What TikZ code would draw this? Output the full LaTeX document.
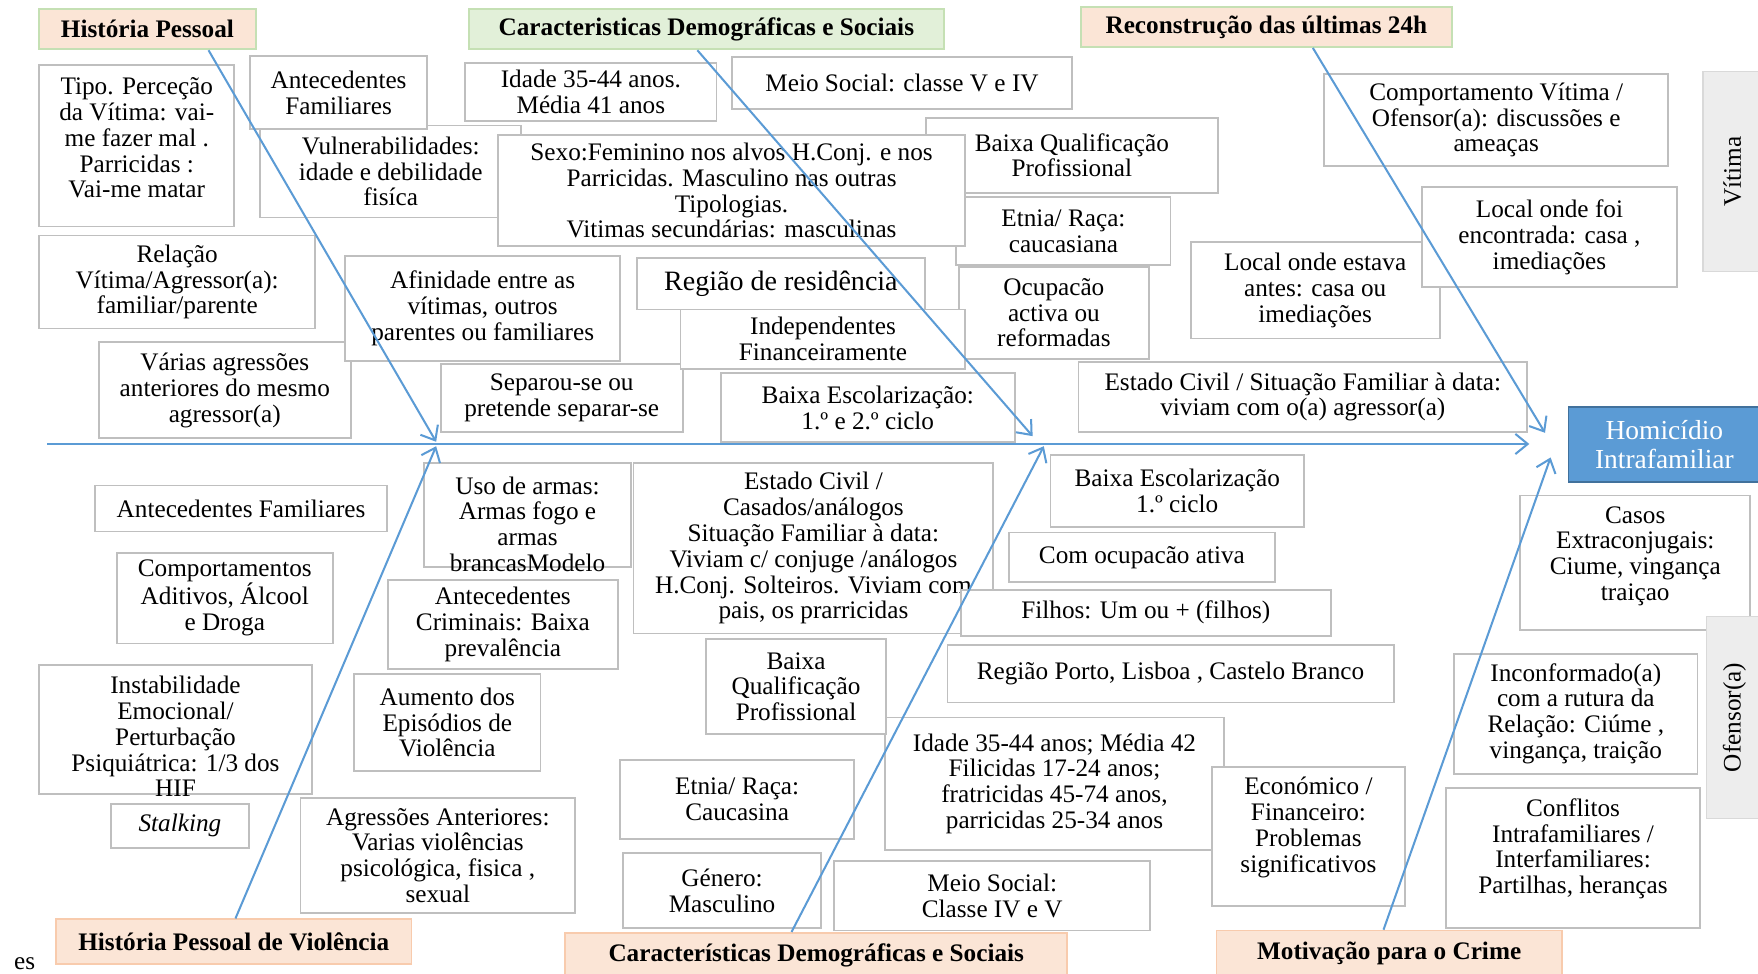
\documentclass[tikz,border=0pt]{standalone}
\usepackage{fontspec}
\setmainfont{Liberation Serif}
\usepackage{tikz}
\usetikzlibrary{arrows.meta}

\definecolor{boxgray}{HTML}{BFBFBF}
\definecolor{fishblue}{HTML}{5B9BD5}
\definecolor{darkblue}{HTML}{41719C}
\definecolor{peach}{HTML}{FBE5D6}
\definecolor{peachline}{HTML}{F8CBAD}
\definecolor{mint}{HTML}{E2F0D9}
\definecolor{mintline}{HTML}{C5E0B4}
\definecolor{sidegray}{HTML}{EDEDED}
\definecolor{sideline}{HTML}{D9D9D9}

\newcommand{\boxfont}{\fontsize{22.5}{23}\selectfont}

\begin{document}
\begin{tikzpicture}[x=1pt,y=-1pt,
    box/.style={draw=boxgray, line width=1.6pt, fill=white, align=center, inner sep=0pt, font=\boxfont},
    txt/.style={align=center, inner sep=0pt, font=\boxfont},
    head/.style={draw=mintline, line width=1.6pt, fill=peach, inner sep=0pt, font=\boxfont\bfseries},
    side/.style={draw=sideline, line width=1.2pt, fill=sidegray, inner sep=0pt, font=\boxfont},
    fish/.style={draw=fishblue, line width=1.8pt, -{Straight Barb[length=11pt,width=18pt]}}]
  \useasboundingbox[fill=white] (0,0) rectangle (1568,868);

  % historia pessoal
  \node[box, minimum width=174pt, minimum height=144pt] (tipo) at (122,130) {};
  \node[txt] (tipotxt) at (122,123) {Tipo. Perceção\\da Vítima: vai-\\me fazer mal .\\Parricidas :\\Vai-me matar};
  \node[box, minimum width=233pt, minimum height=82pt] (vuln) at (348.5,153) {Vulnerabilidades:\\idade e debilidade\\fisíca};
  \node[box, minimum width=158pt, minimum height=65pt] (antfam) at (302,82.5) {Antecedentes\\Familiares};
  \node[box, minimum width=246pt, minimum height=83pt] (relacao) at (158,251.5) {Relação\\Vítima/Agressor(a):\\familiar/parente};
  \node[box, minimum width=225pt, minimum height=86pt] (varias) at (200.5,348) {Várias agressões\\anteriores do mesmo\\agressor(a)};
  \node[box, minimum width=245pt, minimum height=94pt] (afinidade) at (430.5,275) {Afinidade entre as\\vítimas, outros\\parentes ou familiares};
  \node[box, minimum width=216pt, minimum height=60pt] (separou) at (501,355) {Separou-se ou\\pretende separar-se};

  % demograficas vitima
  \node[box, minimum width=224pt, minimum height=52pt] (idade) at (527,82) {Idade 35-44 anos.\\Média 41 anos};
  \node[box, minimum width=303pt, minimum height=46pt] (meio) at (804.5,74) {Meio Social: classe V e IV};
  \node[box, minimum width=260pt, minimum height=67pt] (qualif) at (956,138.5) {Baixa Qualificação\\Profissional};
  \node[box, minimum width=191pt, minimum height=60pt] (etnia) at (948.5,206) {Etnia/ Raça:\\caucasiana};
  \node[box, minimum width=417pt, minimum height=99pt] (sexo) at (652.5,170) {Sexo:Feminino nos alvos H.Conj. e nos\\Parricidas. Masculino nas outras\\Tipologias.\\Vitimas secundárias: masculinas};
  \node[box, minimum width=257pt, minimum height=46pt, font=\fontsize{25}{26}\selectfont] (regiao) at (696.5,253) {Região de residência};
  \node[box, minimum width=170pt, minimum height=82pt] (ocupacao) at (940,279) {Ocupacão\\activa ou\\reformadas};
  \node[box, minimum width=254pt, minimum height=53pt] (indep) at (734,302.5) {Independentes\\Financeiramente};
  \node[box, minimum width=262pt, minimum height=61pt] (escola) at (774,363.5) {Baixa Escolarização:\\1.º e 2.º ciclo};

  % ultimas 24h
  \node[box, minimum width=307pt, minimum height=82pt] (comport) at (1334.5,107) {Comportamento Vítima /\\Ofensor(a): discussões e\\ameaças};
  \node[box, minimum width=222pt, minimum height=86pt] (localantes) at (1173,259) {Local onde estava\\antes: casa ou\\imediações};
  \node[box, minimum width=228pt, minimum height=89pt] (localfoi) at (1382,211.5) {Local onde foi\\encontrada: casa ,\\imediações};
  \node[box, minimum width=400pt, minimum height=62pt] (estado) at (1162,354) {Estado Civil / Situação Familiar à data:\\viviam com o(a) agressor(a)};

  % historia pessoal de violencia
  \node[box, minimum width=260pt, minimum height=41pt] (antfamB) at (215,453.5) {Antecedentes Familiares};
  \node[box, minimum width=193pt, minimum height=81pt] (aditivos) at (200.5,533.5) {Comportamentos\\Aditivos, Álcool\\e Droga};
  \node[box, minimum width=243pt, minimum height=115pt] (instab) at (156.5,650.5) {};
  \node[txt] (instabtxt) at (156.5,657) {Instabilidade\\Emocional/\\Perturbação\\Psiquiátrica: 1/3 dos\\HIF};
  \node[box, minimum width=123pt, minimum height=39pt, font=\boxfont\itshape] (stalking) at (160.5,736.5) {Stalking};
  \node[box, minimum width=185pt, minimum height=93pt] (armas) at (470.5,459.5) {};
  \node[txt] (armastxt) at (470.5,467.5) {Uso de armas:\\Armas fogo e\\armas\\brancasModelo};
  \node[box, minimum width=205pt, minimum height=80pt] (criminais) at (448.5,557) {Antecedentes\\Criminais: Baixa\\prevalência};
  \node[box, minimum width=166pt, minimum height=87pt] (aumento) at (399,644.5) {Aumento dos\\Episódios de\\Violência};
  \node[box, minimum width=245pt, minimum height=102pt] (agressoes) at (390.5,763) {Agressões Anteriores:\\Varias violências\\psicológica, fisica ,\\sexual};

  % demograficas ofensor
  \node[box, minimum width=321pt, minimum height=152pt] (estadoB) at (725.5,489) {Estado Civil /\\Casados/análogos\\Situação Familiar à data:\\Viviam c/ conjuge /análogos\\H.Conj. Solteiros. Viviam com\\pais, os prarricidas};
  \node[box, minimum width=303pt, minimum height=118pt] (idadeB) at (940.5,699) {Idade 35-44 anos; Média 42\\Filicidas 17-24 anos;\\fratricidas 45-74 anos,\\parricidas 25-34 anos};
  \node[box, minimum width=160pt, minimum height=85pt] (qualifB) at (710,612.5) {Baixa\\Qualificação\\Profissional};
  \node[box, minimum width=209pt, minimum height=70pt] (etniaB) at (657.5,713) {Etnia/ Raça:\\Caucasina};
  \node[box, minimum width=176pt, minimum height=67pt] (genero) at (644,794.5) {Género:\\Masculino};
  \node[box, minimum width=282pt, minimum height=62pt] (meioB) at (885,799) {Meio Social:\\Classe IV e V};
  \node[box, minimum width=226pt, minimum height=64pt] (escolaB) at (1050,438) {Baixa Escolarização\\1.º ciclo};
  \node[box, minimum width=237pt, minimum height=44pt] (ocupacaoB) at (1018.5,497) {Com ocupacão ativa};
  \node[box, minimum width=330pt, minimum height=41pt] (filhos) at (1022,546.5) {Filhos: Um ou + (filhos)};
  \node[box, minimum width=398pt, minimum height=51pt] (regiaoB) at (1044,601) {Região Porto, Lisboa , Castelo Branco};

  % motivacao
  \node[box, minimum width=172pt, minimum height=124pt] (economico) at (1167,746) {};
  \node[txt] (economicotxt) at (1167,738) {Económico /\\Financeiro:\\Problemas\\significativos};
  \node[box, minimum width=205pt, minimum height=120pt] (casos) at (1458.5,502) {};
  \node[txt] (casostxt) at (1458.5,496) {Casos\\Extraconjugais:\\Ciume, vingança\\traiçao};
  \node[box, minimum width=217pt, minimum height=107pt] (inconf) at (1405.5,636.5) {Inconformado(a)\\com a rutura da\\Relação: Ciúme ,\\vingança, traição};
  \node[box, minimum width=226pt, minimum height=125pt] (conflitos) at (1403,765.5) {};
  \node[txt] (conflitostxt) at (1403,757) {Conflitos\\Intrafamiliares /\\Interfamiliares:\\Partilhas, heranças};

  \node[side, minimum width=52pt, minimum height=178pt] (vitima) at (1545,153) {\rotatebox{90}{Vítima}};
  \node[side, minimum width=50pt, minimum height=180pt] (ofensor) at (1547,640) {\rotatebox{90}{Ofensor(a)}};
  \node[draw=darkblue, line width=1.6pt, fill=fishblue, text=white, align=center, inner sep=0pt,
        minimum width=171pt, minimum height=67pt, font=\fontsize{24.5}{26}\selectfont] (hif) at (1484.5,396.5) {Homicídio\\Intrafamiliar};

  \node[head, minimum width=193pt, minimum height=36pt] (hPessoal) at (131.5,26) {História Pessoal};
  \node[head, fill=mint, minimum width=424pt, minimum height=36pt] (hDemo) at (630,26) {Caracteristicas Demográficas e Sociais};
  \node[head, minimum width=331pt, minimum height=36pt] (hUltimas) at (1129.5,24) {Reconstrução das últimas 24h};
  \node[head, draw=peachline, minimum width=317pt, minimum height=40pt] (hViolencia) at (208.5,840) {História Pessoal de Violência};
  \node[head, draw=peachline, minimum width=448pt, minimum height=40pt] (hDemoB) at (728,852) {Características Demográficas e Sociais};
  \node[head, draw=peachline, minimum width=308pt, minimum height=40pt] (hMotivo) at (1239,850) {Motivação para o Crime};

  \node[txt, anchor=base] (resto) at (22,865) {es};

  % espinha
  \coordinate (tail) at (42,396);
  \coordinate (head) at (1364,396);
  \coordinate (t1) at (389,394);
  \coordinate (t2) at (921,389);
  \coordinate (t3) at (1378,386);
  \coordinate (t4) at (389,398);
  \coordinate (t5) at (931,398);
  \coordinate (t6) at (1383,408);
  \draw[fish] (tail) -- (head);
  \draw[fish] ([xshift=54.5pt]hPessoal.south) -- (t1);
  \draw[fish] ([xshift=-8pt]hDemo.south) -- (t2);
  \draw[fish] ([xshift=41.5pt]hUltimas.south) -- (t3);
  \draw[fish] ([xshift=1.5pt]hViolencia.north) -- (t4);
  \draw[fish] ([xshift=-22pt]hDemoB.north) -- (t5);
  \draw[fish] ([xshift=-5pt]hMotivo.north) -- (t6);
\end{tikzpicture}
\end{document}
